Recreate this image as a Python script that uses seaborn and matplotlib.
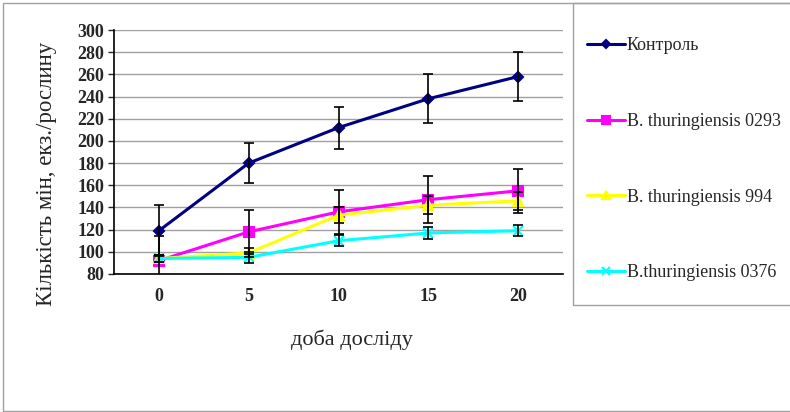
import numpy as np
import pandas as pd
import matplotlib
matplotlib.use("Agg")
import matplotlib.pyplot as plt
import seaborn as sns
from matplotlib.lines import Line2D
from matplotlib.patches import Rectangle

# === Data ===
days = ["0", "5", "10", "15", "20"]
series_names = ["Контроль", "B. thuringiensis 0293", "B. thuringiensis 994", "B.thuringiensis 0376"]
control = [119, 180, 212, 238, 258]
bt_0293 = [92, 118, 136, 147, 155]
bt_994 = [94, 99, 133, 142, 146]
bt_0376 = [94, 95, 110, 117, 119]
err_control = [23, 18, 19, 22, 22]
err_0293 = [22, 20, 20, 21, 20]
err_994 = [3, 4, 7, 8, 8]
err_0376 = [3, 5, 5, 5, 5]

values = [control, bt_0293, bt_994, bt_0376]
errors = [err_control, err_0293, err_994, err_0376]
colors = ["#000080", "#FF00FF", "#FFFF00", "#00FFFF"]
markers = ["D", "s", "^", "x"]
msizes = [5, 7, 7, 7]

rows = []
for name, vals, errs in zip(series_names, values, errors):
    for i, (v, e) in enumerate(zip(vals, errs)):
        rows.append({"series": name, "pos": i, "value": v, "err": e})
df = pd.DataFrame(rows)

sns.set_style("white")
plt.rcParams["font.family"] = ["Liberation Serif", "DejaVu Serif"]

fig = plt.figure(figsize=(7.9, 4.12), dpi=100)
ax = fig.add_axes([114 / 790, 1 - 274 / 412, (563 - 114) / 790, (274 - 30) / 412])

for name, c, m, ms in zip(series_names, colors, markers, msizes):
    sub = df[df["series"] == name]
    sns.lineplot(data=sub, x="pos", y="value", ax=ax, color=c, marker=m,
                 markersize=ms, linewidth=2.2, markeredgecolor=c,
                 markeredgewidth=1.5, legend=False, zorder=3)

for name in series_names:
    sub = df[df["series"] == name]
    ax.errorbar(sub["pos"], sub["value"], yerr=sub["err"], fmt="none",
                ecolor="black", elinewidth=1.2, capsize=3.5, capthick=1.2, zorder=4)

ax.set_xlim(-0.5, 4.5)
ax.set_ylim(80, 300)
ax.set_yticks(np.arange(80, 301, 20))
ax.set_xticks(range(len(days)))
ax.set_xticklabels(days)
ax.set_xticks(np.arange(-0.5, 4.6, 1), minor=True)
ax.tick_params(axis="x", which="major", length=0, pad=10)
ax.tick_params(axis="x", which="minor", length=4, direction="out", width=1)
ax.tick_params(axis="y", length=4, direction="out", width=1, pad=3, left=True)
for lab in ax.get_xticklabels() + ax.get_yticklabels():
    lab.set_fontweight("bold")
    lab.set_fontsize(13)
ax.yaxis.grid(True, color="#a0a0a0", linewidth=1)
ax.set_axisbelow(True)
for s in ["top", "right"]:
    ax.spines[s].set_visible(False)
for s in ["left", "bottom"]:
    ax.spines[s].set_color("black")
    ax.spines[s].set_linewidth(1.2)
ax.set_xlabel("")
ax.set_ylabel("")

fig.text(47 / 790, 1 - 174 / 412, "Кількість мін, екз./рослину", rotation=90,
         ha="center", va="center", fontsize=16.5)
fig.text(352 / 790, 1 - 340 / 412, "доба досліду", ha="center", va="center", fontsize=16)

# outer frame and legend box
fig.patches.append(Rectangle((3 / 790, 0.002), 1.2, 1 - 3 / 412 - 0.002, transform=fig.transFigure,
                             fill=False, edgecolor="#a0a0a0", linewidth=1))
fig.patches.append(Rectangle((573 / 790, 1 - 305 / 412), 1, 302 / 412, transform=fig.transFigure,
                             fill=False, edgecolor="#a0a0a0", linewidth=1))

handles = [Line2D([], [], color=c, marker=m, markersize=ms - 1, linewidth=2.2,
                  markeredgecolor=c, markeredgewidth=1.5)
           for c, m, ms in zip(colors, markers, msizes)]
fig.legend(handles, series_names, loc="upper left", bbox_to_anchor=(580 / 790, 1 - 30 / 412),
           frameon=False, fontsize=13, handlelength=2.1, handletextpad=0.1,
           labelspacing=3.25, borderaxespad=0)

fig.savefig("out.png", dpi=100)
